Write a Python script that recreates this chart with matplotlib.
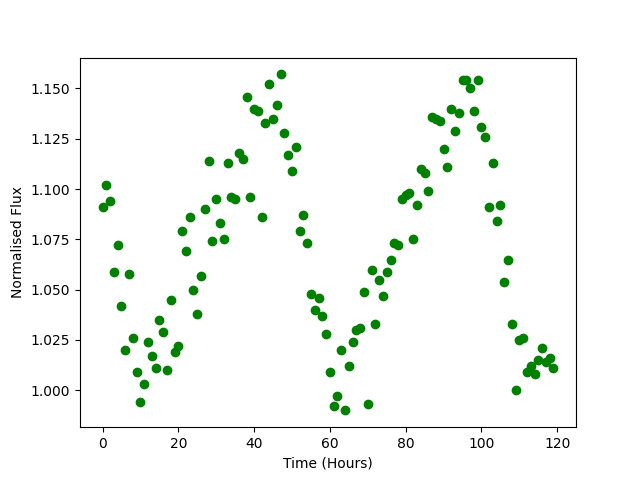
import matplotlib
matplotlib.use("Agg")
import matplotlib.pyplot as plt
import numpy as np

# time in hours
time = np.arange(120)

# normalised flux
flux = np.array([
    1.091, 1.102, 1.094, 1.059, 1.072, 1.042, 1.020, 1.058, 1.026, 1.009,
    0.994, 1.003, 1.024, 1.017, 1.011, 1.035, 1.029, 1.010, 1.045, 1.019,
    1.022, 1.079, 1.069, 1.086, 1.050, 1.038, 1.057, 1.090, 1.114, 1.074,
    1.095, 1.083, 1.075, 1.113, 1.096, 1.095, 1.118, 1.115, 1.146, 1.096,
    1.140, 1.139, 1.086, 1.133, 1.152, 1.135, 1.142, 1.157, 1.128, 1.117,
    1.109, 1.121, 1.079, 1.087, 1.073, 1.048, 1.040, 1.046, 1.037, 1.028,
    1.009, 0.992, 0.997, 1.020, 0.990, 1.012, 1.024, 1.030, 1.031, 1.049,
    0.993, 1.060, 1.033, 1.055, 1.047, 1.059, 1.065, 1.073, 1.072, 1.095,
    1.097, 1.098, 1.075, 1.092, 1.110, 1.108, 1.099, 1.136, 1.135, 1.134,
    1.120, 1.111, 1.140, 1.129, 1.138, 1.154, 1.154, 1.150, 1.139, 1.154,
    1.131, 1.126, 1.091, 1.113, 1.084, 1.092, 1.054, 1.065, 1.033, 1.000,
    1.025, 1.026, 1.009, 1.012, 1.008, 1.015, 1.021, 1.014, 1.016, 1.011,
])

fig, ax = plt.subplots(figsize=(6.4, 4.8), dpi=100)
ax.plot(time, flux, 'go')
ax.set_xlabel('Time (Hours)')
ax.set_ylabel('Normalised Flux')
fig.savefig('out.png')
